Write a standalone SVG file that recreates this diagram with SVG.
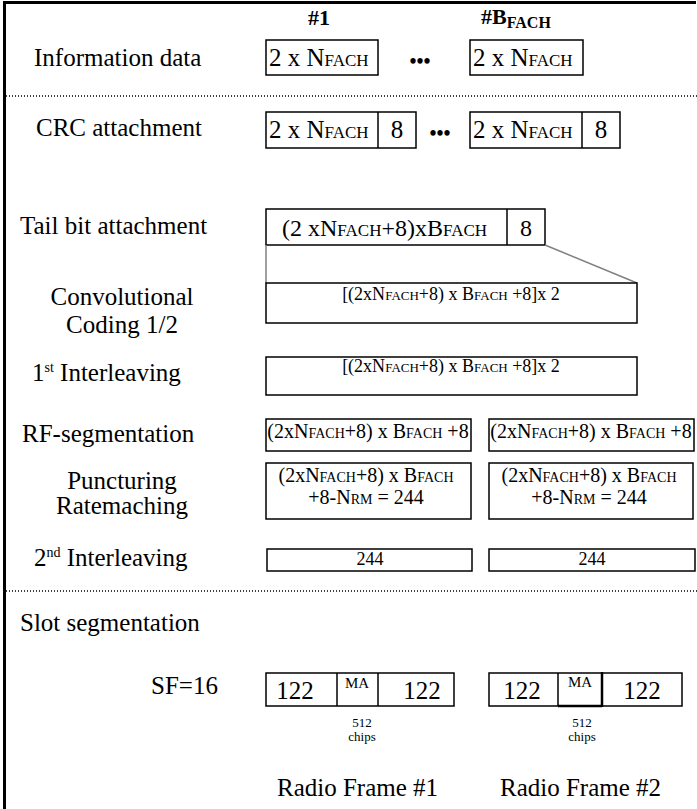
<svg xmlns="http://www.w3.org/2000/svg" width="697" height="809" viewBox="0 0 697 809" font-family="'Liberation Serif', 'Times New Roman', Times, 'DejaVu Serif', serif">
<style>
text{font-family:"Liberation Serif","Times New Roman",Times,"DejaVu Serif",serif;fill:#000}
.lbl{font-size:25px}
.hdr{font-size:22px;font-weight:bold}
.bx{fill:#fff;stroke:#000;stroke-width:1.5}
.ln{stroke:#000;stroke-width:1.5}
.dot{stroke:#000;stroke-width:1.5;stroke-dasharray:1 2;fill:none}
.gray{stroke:#808080;stroke-width:1.5;fill:none}
</style>
<rect width="697" height="809" fill="#fff"/>
<g id="frame">
<line x1="3" y1="2.5" x2="696" y2="2.5" stroke="#000" stroke-width="3"/>
<line x1="4.5" y1="1" x2="4.5" y2="809" stroke="#000" stroke-width="3"/>
<line class="dot" x1="6" y1="96" x2="697" y2="96"/>
<line class="dot" x1="6" y1="591" x2="697" y2="591"/>
</g>
<g id="labels">
<text class="hdr" x="319" y="25" text-anchor="middle">#1</text>
<text class="hdr" x="481" y="24">#B<tspan font-size="16" dy="4">FACH</tspan></text>
<text class="lbl" x="34" y="66">Information data</text>
<text class="lbl" x="36" y="136">CRC attachment</text>
<text class="lbl" x="20" y="234">Tail bit attachment</text>
<text class="lbl" x="122" y="305" text-anchor="middle">Convolutional</text>
<text class="lbl" x="122" y="333" text-anchor="middle">Coding 1/2</text>
<text class="lbl" x="32" y="381">1<tspan font-size="14" dy="-9">st</tspan><tspan dy="9"> Interleaving</tspan></text>
<text class="lbl" x="22" y="442">RF-segmentation</text>
<text class="lbl" x="122" y="489" text-anchor="middle">Puncturing</text>
<text class="lbl" x="122" y="514" text-anchor="middle">Ratemaching</text>
<text class="lbl" x="34" y="566">2<tspan font-size="14" dy="-9">nd</tspan><tspan dy="9"> Interleaving</tspan></text>
<text class="lbl" x="20" y="631" font-size="26">Slot segmentation</text>
<text class="lbl" x="151" y="694" font-size="24">SF=16</text>
<text class="lbl" x="277" y="796">Radio Frame #1</text>
<text class="lbl" x="500" y="796">Radio Frame #2</text>
</g>
<g id="info1">
<rect class="bx" x="266" y="40" width="112" height="35"/>
<text font-size="25" x="269" y="66">2 x N<tspan font-size="17">FACH</tspan></text>
</g>
<g id="info-dots"><text font-size="20" font-weight="bold" x="420" y="68" text-anchor="middle">•••</text></g>
<g id="info2">
<rect class="bx" x="470" y="40" width="113" height="35"/>
<text font-size="25" x="473" y="66">2 x N<tspan font-size="17">FACH</tspan></text>
</g>
<g id="crc1">
<rect class="bx" x="266" y="112" width="150" height="36"/>
<line class="ln" x1="378" y1="112" x2="378" y2="148"/>
<text font-size="25" x="269" y="138">2 x N<tspan font-size="17">FACH</tspan></text>
<text font-size="25" x="397" y="138" text-anchor="middle">8</text>
</g>
<g id="crc-dots"><text font-size="20" font-weight="bold" x="440" y="140" text-anchor="middle">•••</text></g>
<g id="crc2">
<rect class="bx" x="470" y="112" width="150" height="36"/>
<line class="ln" x1="582" y1="112" x2="582" y2="148"/>
<text font-size="25" x="473" y="138">2 x N<tspan font-size="17">FACH</tspan></text>
<text font-size="25" x="601" y="138" text-anchor="middle">8</text>
</g>
<g id="tail">
<rect class="bx" x="266" y="209" width="279" height="36"/>
<line class="ln" x1="507" y1="209" x2="507" y2="245"/>
<text font-size="24" x="282" y="236">(2 xN<tspan font-size="17">FACH</tspan>+8)xB<tspan font-size="17">FACH</tspan></text>
<text font-size="24" x="526" y="236" text-anchor="middle">8</text>
</g>
<g id="connectors">
<line class="gray" x1="266" y1="245" x2="266" y2="283"/>
<line class="gray" x1="545" y1="245" x2="637" y2="283"/>
</g>
<g id="conv">
<rect class="bx" x="266" y="283" width="371" height="40"/>
<text font-size="18" x="451" y="300" text-anchor="middle">[(2xN<tspan font-size="13">FACH</tspan>+8) x B<tspan font-size="13">FACH</tspan> +8]x 2</text>
</g>
<g id="inter1">
<rect class="bx" x="266" y="357" width="371" height="38"/>
<text font-size="18" x="451" y="372" text-anchor="middle">[(2xN<tspan font-size="13">FACH</tspan>+8) x B<tspan font-size="13">FACH</tspan> +8]x 2</text>
</g>
<g id="rf1">
<rect class="bx" x="266" y="419" width="205" height="32"/>
<text font-size="20" x="368" y="438" text-anchor="middle">(2xN<tspan font-size="14">FACH</tspan>+8) x B<tspan font-size="14">FACH</tspan> +8</text>
</g>
<g id="rf2">
<rect class="bx" x="489" y="419" width="205" height="32"/>
<text font-size="20" x="591" y="438" text-anchor="middle">(2xN<tspan font-size="14">FACH</tspan>+8) x B<tspan font-size="14">FACH</tspan> +8</text>
</g>
<g id="punct1">
<rect class="bx" x="266" y="463" width="205" height="56"/>
<text font-size="20" x="366" y="482" text-anchor="middle">(2xN<tspan font-size="14">FACH</tspan>+8) x B<tspan font-size="14">FACH</tspan></text>
<text font-size="20" x="366" y="504" text-anchor="middle">+8-N<tspan font-size="14">RM</tspan> = 244</text>
</g>
<g id="punct2">
<rect class="bx" x="489" y="463" width="204" height="56"/>
<text font-size="20" x="589" y="482" text-anchor="middle">(2xN<tspan font-size="14">FACH</tspan>+8) x B<tspan font-size="14">FACH</tspan></text>
<text font-size="20" x="589" y="504" text-anchor="middle">+8-N<tspan font-size="14">RM</tspan> = 244</text>
</g>
<g id="inter2a">
<rect class="bx" x="267" y="549" width="205" height="22"/>
<text font-size="18" x="370" y="565" text-anchor="middle">244</text>
</g>
<g id="inter2b">
<rect class="bx" x="489" y="549" width="206" height="22"/>
<text font-size="18" x="592" y="565" text-anchor="middle">244</text>
</g>
<g id="slot1">
<rect class="bx" x="266" y="673" width="188" height="33"/>
<line class="ln" x1="337" y1="673" x2="337" y2="706"/>
<line class="ln" x1="378" y1="673" x2="378" y2="706"/>
<text font-size="25" x="295" y="699" text-anchor="middle">122</text>
<text font-size="15" x="357" y="688" text-anchor="middle">MA</text>
<text font-size="25" x="422" y="699" text-anchor="middle">122</text>
<text font-size="13" x="362" y="727" text-anchor="middle">512</text>
<text font-size="13" x="362" y="741" text-anchor="middle">chips</text>
</g>
<g id="slot2">
<rect class="bx" x="489" y="673" width="193" height="33"/>
<line class="ln" x1="558" y1="673" x2="558" y2="706"/>
<line stroke="#000" stroke-width="2.5" x1="602" y1="672" x2="602" y2="707"/>
<line stroke="#000" stroke-width="2.5" x1="558" y1="706" x2="602" y2="706"/>
<text font-size="25" x="522" y="699" text-anchor="middle">122</text>
<text font-size="15" x="580" y="687" text-anchor="middle">MA</text>
<text font-size="25" x="642" y="699" text-anchor="middle">122</text>
<text font-size="13" x="582" y="727" text-anchor="middle">512</text>
<text font-size="13" x="582" y="741" text-anchor="middle">chips</text>
</g>
</svg>
